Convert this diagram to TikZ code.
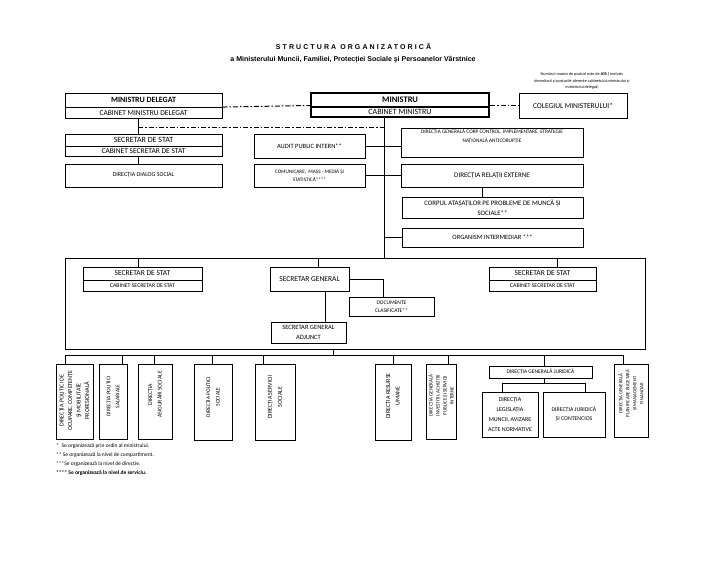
\documentclass[tikz,border=0pt]{standalone}
\usepackage{fontspec}
\setmainfont{Carlito}
\newfontfamily\arialfont{Liberation Sans}
\usetikzlibrary{positioning}

\newcommand{\fsz}[2]{\fontsize{#1}{#2}\selectfont}

\tikzset{
  box/.style={draw, line width=.5pt, inner sep=1pt, align=center},
  thickbox/.style={box, line width=1pt},
  link/.style={draw, line width=.5pt},
  dashdot/.style={line width=1pt, dash pattern=on 5pt off 2pt on 1.5pt off 2pt},
  coltxt/.style={rotate=90, align=center, inner sep=0pt},
}

\begin{document}
\begin{tikzpicture}[x=1pt, y=-1pt]
\useasboundingbox (0,0) rectangle (728,562);

% titles
\node[font=\arialfont\bfseries\fsz{7}{8}\addfontfeature{LetterSpace=30}] (title) at (353.5,46) {STRUCTURA ORGANIZATORICĂ};
\node[font=\arialfont\bfseries\fsz{7}{8}] (subtitle) at (353,60) {a Ministerului Muncii, Familiei, Protecției Sociale și Persoanelor Vârstnice};
\node[font=\fsz{4.2}{6.3}, align=center, inner sep=0] (note) at (582,81) {Numărul maxim de posturi este de \textbf{405} ( exclusiv\\ demnitarii și posturile aferente cabinetului ministrului și\\ ministrului delegat)};

% top row
\node[thickbox, minimum width=157pt, minimum height=14.5pt, font=\bfseries\fsz{8}{9}] (mdel) at (143.5,100.3) {MINISTRU DELEGAT};
\node[thickbox, minimum width=157pt, minimum height=10.5pt, font=\fsz{7.5}{8}, below=-1pt of mdel] (cabmdel) {CABINET MINISTRU DELEGAT};
\node[box, line width=2pt, minimum width=178pt, minimum height=14pt, font=\bfseries\fsz{8.5}{9}] (min) at (400,99.5) {MINISTRU};
\node[box, line width=2pt, minimum width=178pt, minimum height=10pt, font=\fsz{8}{9}, below=-2pt of min] (cabmin) {CABINET MINISTRU};
\node[box, minimum width=108pt, minimum height=25pt, font=\fsz{7.5}{9}] (coleg) at (573,105.5) {COLEGIUL MINISTERULUI*};

\draw[dashdot] (cabmdel.north east) -- (cabmin.north west);
\draw[dashdot] (cabmin.north east) -- (coleg.west |- cabmin.north);

% left column
\node[box, minimum width=157pt, minimum height=12pt, font=\fsz{8}{9}] (sstat1) at (143.5,140) {SECRETAR DE STAT};
\node[box, minimum width=157pt, minimum height=10pt, font=\fsz{7.5}{8}, below=-.5pt of sstat1] (cabsstat1) {CABINET SECRETAR DE STAT};
\node[box, minimum width=157pt, minimum height=23pt, font=\fsz{6}{7}] (dialog) at (143.5,175.5) {DIRECȚIA DIALOG SOCIAL};

% under the minister
\node[box, minimum width=111pt, minimum height=24pt, font=\fsz{6.5}{8}] (audit) at (309.5,146) {AUDIT PUBLIC INTERN**};
\node[box, minimum width=111pt, minimum height=23pt, font=\fsz{5.2}{8}] (comunic) at (309.5,175.5) {COMUNICARE,\ \ MASS - MEDIA ȘI\\ STATISTICĂ****};
\node[box, minimum width=182pt, minimum height=29pt] (corp) at (492,142.5) {};
\node[font=\fsz{5.3}{9}, align=center, inner sep=0] at ([yshift=6pt]corp.center) {DIRECȚIA GENERALĂ CORP CONTROL, IMPLEMENTARE\ \ STRATEGIE\\ NAȚIONALĂ ANTICORUPȚIE};
\node[box, minimum width=182pt, minimum height=23pt, font=\fsz{7}{8}] (relext) at (492,175.5) {DIRECȚIA RELAȚII EXTERNE};
\node[box, minimum width=181pt, minimum height=21pt, font=\fsz{6.8}{10}] (atasati) at (492.5,207.5) {CORPUL ATAȘAȚILOR PE PROBLEME DE MUNCĂ ȘI\\ SOCIALE**};
\node[box, minimum width=181pt, minimum height=19pt, font=\fsz{6.5}{8}] (organism) at (492.5,237.5) {ORGANISM INTERMEDIAR ***};

\coordinate (ddl) at (138,127);
\coordinate (trunk) at (384,258);
\draw[link] ([xshift=-5.5pt]cabmdel.south) -- ([xshift=-5.5pt]sstat1.north);
\draw[dashdot] (ddl) -- (ddl -| trunk);
\draw[link] (cabmin.south -| trunk) -- (trunk);
\draw[link] ([xshift=-5.5pt]cabsstat1.south) -- ([xshift=-5.5pt]dialog.north);
\draw[link] (audit.east) -- (audit.east -| corp.west);
\draw[link] (comunic.east) -- (relext.west);
\draw[link] (organism.west -| trunk) -- (organism.west);
\draw[link] ([xshift=-10pt]relext.south) -- ([xshift=-10pt]relext.south |- atasati.north);

% middle frame
\node[draw, line width=.6pt, minimum width=580pt, minimum height=91pt, inner sep=0] (frame) at (355,303.5) {};
\node[box, minimum width=119pt, minimum height=13pt, font=\fsz{7.5}{8}] (sstat2) at (142.5,273.5) {SECRETAR DE STAT};
\node[box, minimum width=119pt, minimum height=11pt, font=\fsz{5.8}{7}, below=-.5pt of sstat2] (cabsstat2) {CABINET SECRETAR DE STAT};
\node[box, minimum width=79pt, minimum height=24pt, font=\fsz{7.5}{8}] (sgen) at (309.5,279) {SECRETAR GENERAL};
\node[box, minimum width=85pt, minimum height=19pt, font=\fsz{5.5}{8}] (docs) at (391.5,306.5) {DOCUMENTE\\ CLASIFICATE**};
\node[box, minimum width=75pt, minimum height=21pt, font=\fsz{6.5}{10}] (sgadj) at (308.5,332.5) {SECRETAR GENERAL\\ ADJUNCT};
\node[box, minimum width=107pt, minimum height=13pt, font=\fsz{7.5}{8}] (sstat3) at (542.5,273.5) {SECRETAR DE STAT};
\node[box, minimum width=107pt, minimum height=11pt, font=\fsz{5.8}{7}, below=-.5pt of sstat3] (cabsstat3) {CABINET SECRETAR DE STAT};

\draw[link] ([xshift=-4.5pt]sstat2.north) -- ([xshift=-4.5pt]sstat2.north |- frame.north);
\draw[link] ([xshift=8.5pt]sgen.north) -- ([xshift=8.5pt]sgen.north |- frame.north);
\draw[link] ([xshift=14.5pt]sstat3.north) -- ([xshift=14.5pt]sstat3.north |- frame.north);
\draw[link] (sgen.east) -| ([xshift=-8.5pt]docs.north);
\draw[link] ([xshift=15.5pt]sgen.south) -- ([xshift=15.5pt]sgen.south |- sgadj.north);

% directions
\node[box, minimum width=37pt, minimum height=75pt] (c1) at (74.5,401.5) {};
\node[box, minimum width=28pt, minimum height=75pt] (c2) at (113,401.5) {};
\node[box, line width=1pt, minimum width=34pt, minimum height=75pt] (c3) at (155,401.5) {};
\node[box, minimum width=38pt, minimum height=76pt] (c4) at (213,402) {};
\node[box, line width=1pt, minimum width=40pt, minimum height=76pt] (c5) at (275,402) {};
\node[box, line width=1pt, minimum width=36pt, minimum height=76pt] (c6) at (393,402) {};
\node[box, minimum width=30pt, minimum height=75pt] (c7) at (441,401.5) {};
\node[box, minimum width=103pt, minimum height=12pt, font=\fsz{5.5}{7}] (dgj) at (540.5,372) {DIRECȚIA GENERALĂ JURIDICĂ};
\node[box, line width=.9pt, minimum width=56pt, minimum height=45pt, font=\fsz{6}{10}] (leg) at (510,414.5) {DIRECȚIA\\ LEGISLAȚIA\\ MUNCII, AVIZARE\\ ACTE NORMATIVE};
\node[box, line width=.9pt, minimum width=62pt, minimum height=45pt, font=\fsz{5.8}{9}] (jur) at (574,414.5) {DIRECȚIA JURIDICĂ\\ ȘI CONTENCIOS};
\node[box, minimum width=34pt, minimum height=73pt] (c11) at (631,400.5) {};

\node[coltxt, font=\fsz{6}{8.5}] at ([yshift=1pt]c1.center) {DIRECȚIA POLITICI DE\\ OCUPARE, COMPETENȚE\\ ȘI MOBILITATE\\ PROFESIONALĂ};
\node[coltxt, font=\fsz{5.5}{9}] at ([yshift=5pt]c2.center) {DIRECȚIA POLITICI\\ SALARIALE};
\node[coltxt, font=\fsz{5.8}{9.5}] at ([yshift=7pt]c3.center) {DIRECȚIA\\ ASIGURĂRI SOCIALE};
\node[coltxt, font=\fsz{5.5}{9.5}] at ([yshift=5pt]c4.center) {DIRECȚIA POLITICI\\ SOCIALE};
\node[coltxt, font=\fsz{6}{10}] at ([yshift=5pt]c5.center) {DIRECȚIA SERVICII\\ SOCIALE};
\node[coltxt, font=\fsz{6}{9.5}] at ([yshift=6pt]c6.center) {DIRECȚIA RESURSE\\ UMANE};
\node[coltxt, font=\fsz{5}{7}] at ([yshift=6pt]c7.center) {DIRECȚIA GENERALĂ\\ INVESTIȚII, ACHIZIȚII\\ PUBLICE ȘI SERVICII\\ INTERNE};
\node[coltxt, font=\fsz{4.8}{7}] at ([yshift=7pt]c11.center) {DIRECȚIA GENERALĂ\\ PLANIFICARE BUGETARĂ\\ ȘI MANAGEMENT\\ FINANCIAR};

\coordinate (bus) at (333,355);
\draw[link] (frame.south -| bus) -- (bus);
\draw[link] ([xshift=-9.5pt]c1.north |- bus) -- ([xshift=-8pt]c11.north |- bus);
\foreach \n/\dx in {c1/-9.5, c2/9, c3/-1, c4/-1, c5/-12, c6/0, c7/7, dgj/3.5, c11/-8}
  \draw[link] ([xshift=\dx pt]\n.north) -- ([xshift=\dx pt]\n.north |- bus);

\coordinate (jbus) at (544,383);
\draw[link] (dgj.south -| jbus) -- (jbus);
\draw[link] ([xshift=-8pt]leg.north) |- (jbus);
\draw[link] ([xshift=11pt]jur.north) |- (jbus);

% footnotes
\node[anchor=west, align=left, inner sep=0, font=\fsz{5.5}{9}] (notes) at (56,459.5) {*\enspace Se organizează prin ordin al ministrului.\\ ** Se organizează la nivel de compartiment.\\ ***Se organizează la nivel de direcție.\\ \textbf{**** Se organizează la nivel de serviciu.}};
\end{tikzpicture}
\end{document}
